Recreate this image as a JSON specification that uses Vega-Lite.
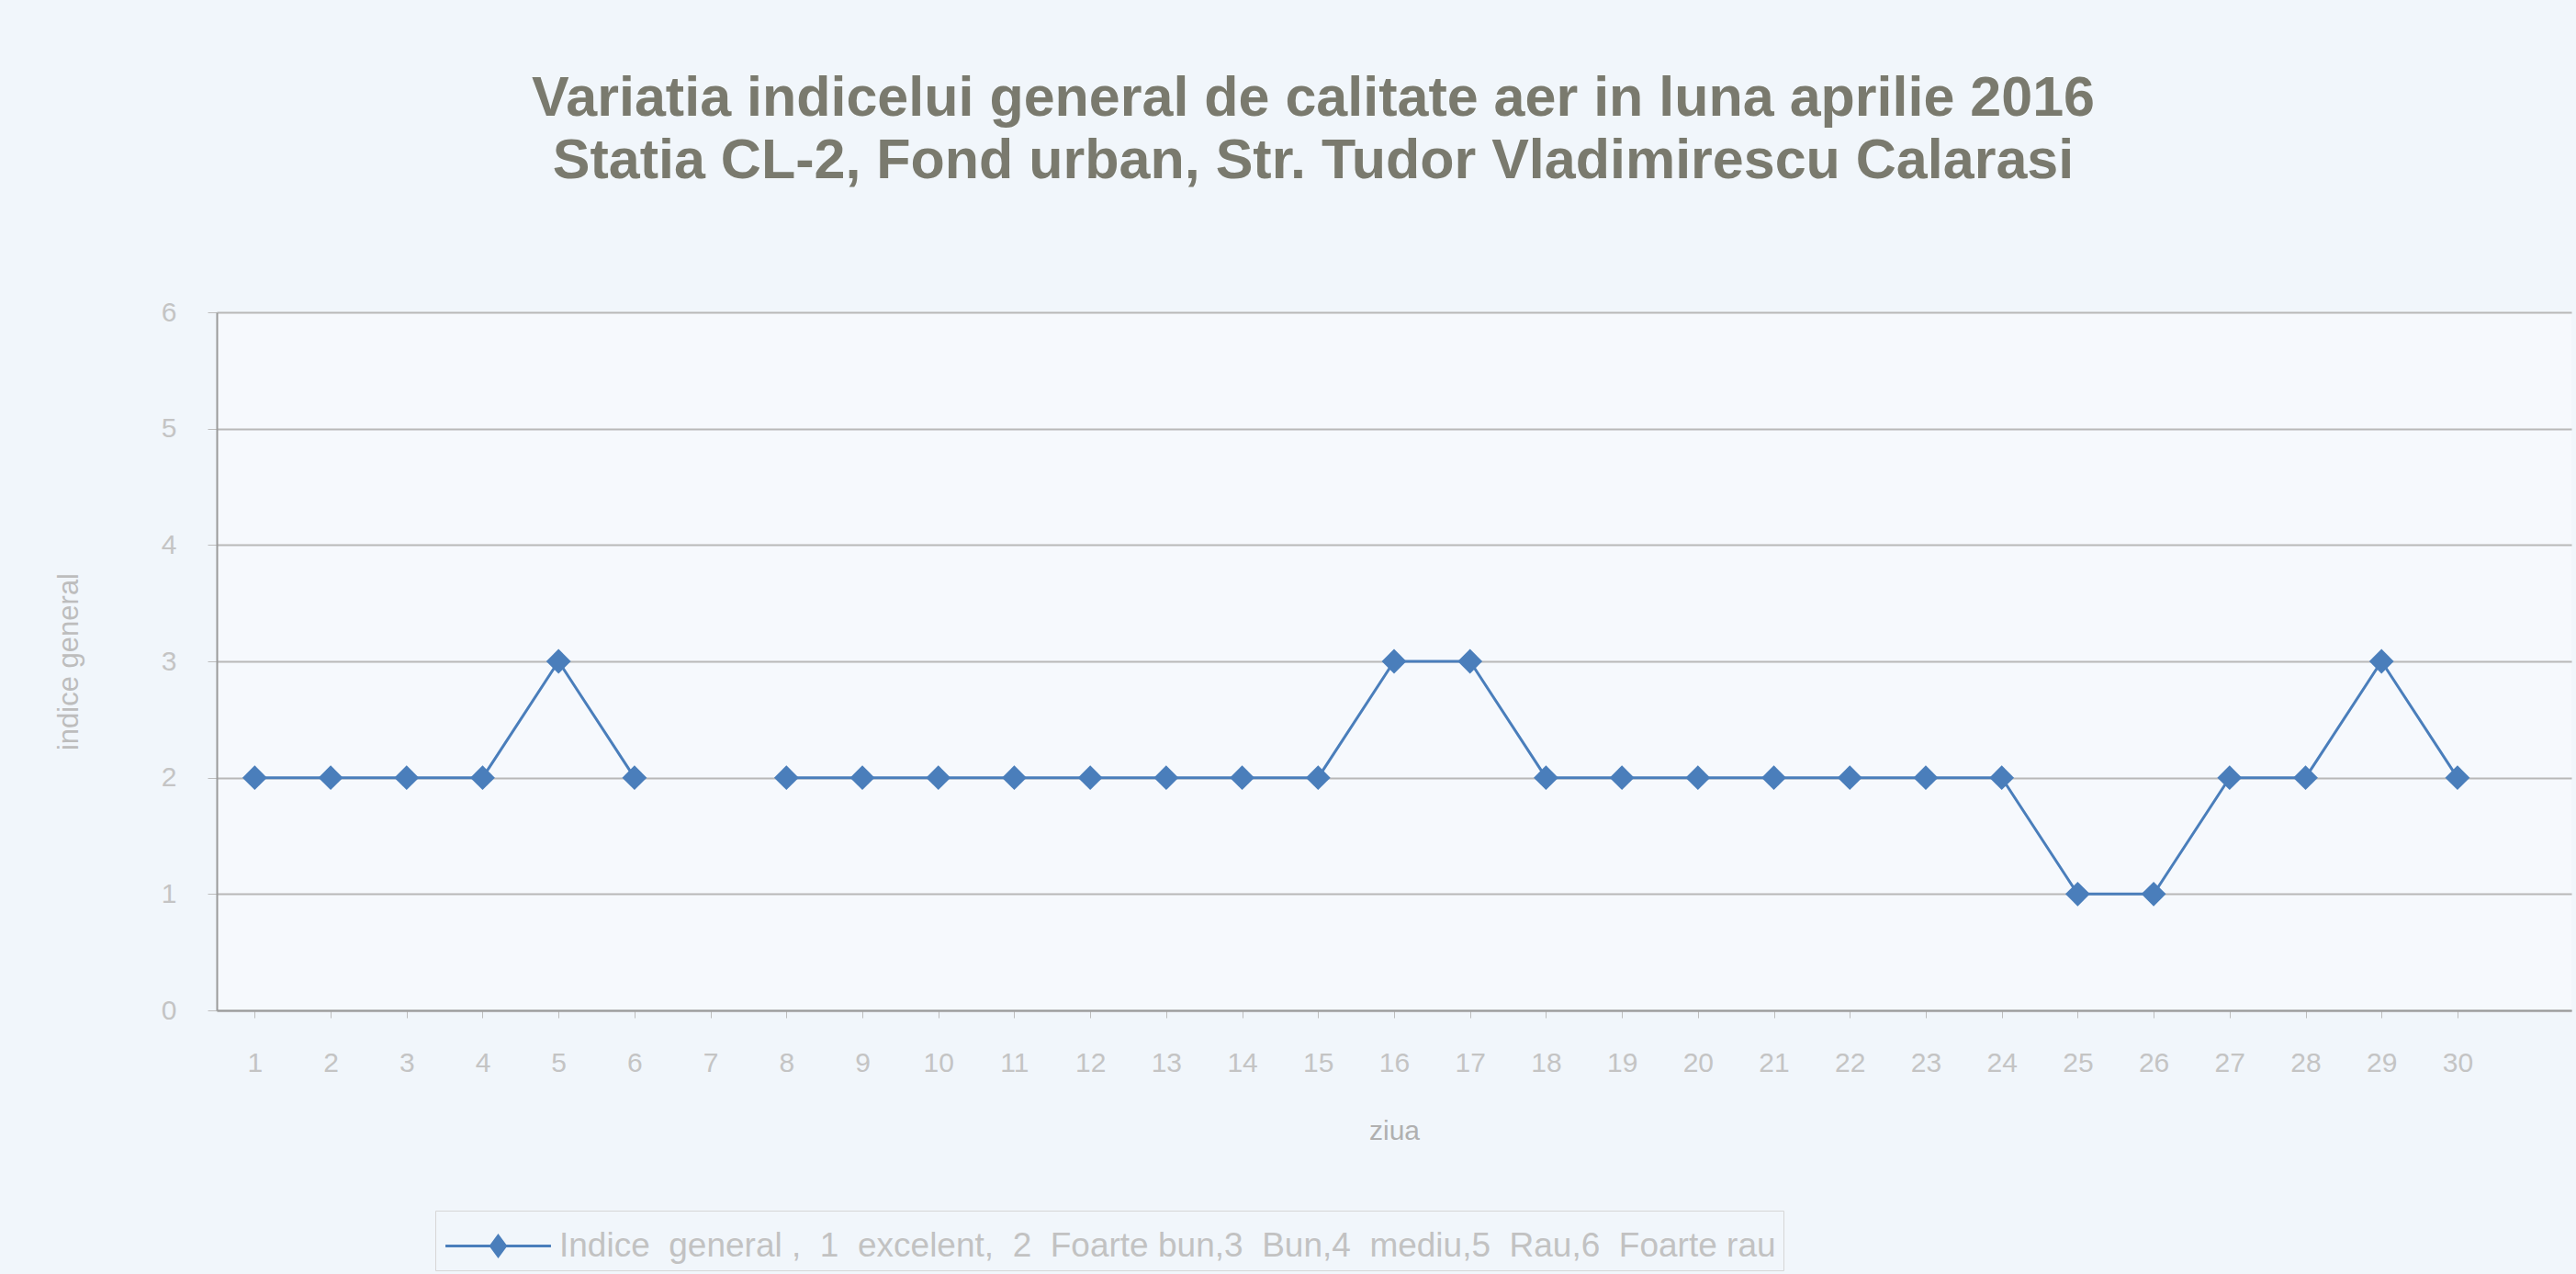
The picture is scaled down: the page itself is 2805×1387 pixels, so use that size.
{
  "$schema": "https://vega.github.io/schema/vega-lite/v6.json",
  "autosize": "none",
  "width": 2564,
  "height": 760,
  "padding": {"left": 236, "top": 340, "right": 5, "bottom": 287},
  "background": "#f1f6fb",
  "config": {
    "font": "Liberation Sans",
    "view": {"fill": "#f6f9fd", "stroke": null},
    "axis": {"labelFont": "Liberation Sans", "titleFont": "Liberation Sans"}
  },
  "title": {
    "text": ["Variatia indicelui general de calitate aer in luna aprilie 2016", "Statia CL-2, Fond urban,  Str. Tudor Vladimirescu Calarasi"],
    "fontSize": 61,
    "fontWeight": "bold",
    "color": "#7a7a6e",
    "anchor": "middle",
    "dx": -88,
    "offset": 118,
    "lineHeight": 68
  },
  "data": {
    "values": [
      {"ziua": 1, "indice": 2}, {"ziua": 2, "indice": 2}, {"ziua": 3, "indice": 2},
      {"ziua": 4, "indice": 2}, {"ziua": 5, "indice": 3}, {"ziua": 6, "indice": 2},
      {"ziua": 7, "indice": null}, {"ziua": 8, "indice": 2}, {"ziua": 9, "indice": 2},
      {"ziua": 10, "indice": 2}, {"ziua": 11, "indice": 2}, {"ziua": 12, "indice": 2},
      {"ziua": 13, "indice": 2}, {"ziua": 14, "indice": 2}, {"ziua": 15, "indice": 2},
      {"ziua": 16, "indice": 3}, {"ziua": 17, "indice": 3}, {"ziua": 18, "indice": 2},
      {"ziua": 19, "indice": 2}, {"ziua": 20, "indice": 2}, {"ziua": 21, "indice": 2},
      {"ziua": 22, "indice": 2}, {"ziua": 23, "indice": 2}, {"ziua": 24, "indice": 2},
      {"ziua": 25, "indice": 1}, {"ziua": 26, "indice": 1}, {"ziua": 27, "indice": 2},
      {"ziua": 28, "indice": 2}, {"ziua": 29, "indice": 3}, {"ziua": 30, "indice": 2}
    ]
  },
  "encoding": {
    "x": {
      "field": "ziua",
      "type": "quantitative",
      "scale": {"domain": [0.5, 31.5], "nice": false, "zero": false},
      "axis": {
        "title": "ziua",
        "values": [1,2,3,4,5,6,7,8,9,10,11,12,13,14,15,16,17,18,19,20,21,22,23,24,25,26,27,28,29,30],
        "grid": false,
        "domainColor": "#9a9a9a",
        "domainWidth": 2,
        "tickColor": "#bdbdbd",
        "tickSize": 8,
        "labelFontSize": 30,
        "labelColor": "#c4c4c4",
        "labelPadding": 34,
        "titleFontSize": 30,
        "titleFontWeight": "normal",
        "titleColor": "#b0b0b0",
        "titlePadding": 44
      }
    },
    "y": {
      "field": "indice",
      "type": "quantitative",
      "scale": {"domain": [0, 6], "nice": false},
      "axis": {
        "title": "indice general",
        "values": [0,1,2,3,4,5,6],
        "grid": true,
        "gridColor": "#b8b8b8",
        "gridWidth": 2,
        "domainColor": "#9a9a9a",
        "domainWidth": 2,
        "tickColor": "#bdbdbd",
        "tickSize": 10,
        "labelFontSize": 30,
        "labelColor": "#c4c4c4",
        "labelPadding": 34,
        "titleFontSize": 31,
        "titleFontWeight": "normal",
        "titleColor": "#bdbdbd",
        "titlePadding": 84
      }
    },
    "color": {
      "datum": "Indice\u00a0\u00a0general\u00a0,\u00a0\u00a01\u00a0\u00a0excelent,\u00a0\u00a02\u00a0\u00a0Foarte\u00a0bun,3\u00a0\u00a0Bun,4\u00a0\u00a0mediu,5\u00a0\u00a0Rau,6\u00a0\u00a0Foarte\u00a0rau",
      "type": "nominal",
      "scale": {"range": ["#4a7ebb"]},
      "legend": {
        "title": null,
        "orient": "none",
        "legendX": 238,
        "legendY": 978,
        "direction": "horizontal",
        "symbolType": "M-2,0L2,0M0,-0.38L0.28,0L0,0.38L-0.28,0Z",
        "symbolSize": 3300,
        "symbolStrokeWidth": 3,
        "symbolFillColor": "#4a7ebb",
        "symbolStrokeColor": "#4a7ebb",
        "symbolOffset": 30,
        "labelOffset": 36,
        "labelFontSize": 37,
        "labelColor": "#c2c2c2",
        "labelLimit": 2400,
        "strokeColor": "#d6d6d6",
        "padding": 8
      }
    }
  },
  "layer": [
    {
      "mark": {"type": "line", "strokeWidth": 3, "invalid": "break-paths-show-domains"}
    },
    {
      "transform": [{"filter": "datum.indice != null"}],
      "mark": {"type": "point", "shape": "diamond", "filled": true, "size": 720, "opacity": 1}
    }
  ]
}
